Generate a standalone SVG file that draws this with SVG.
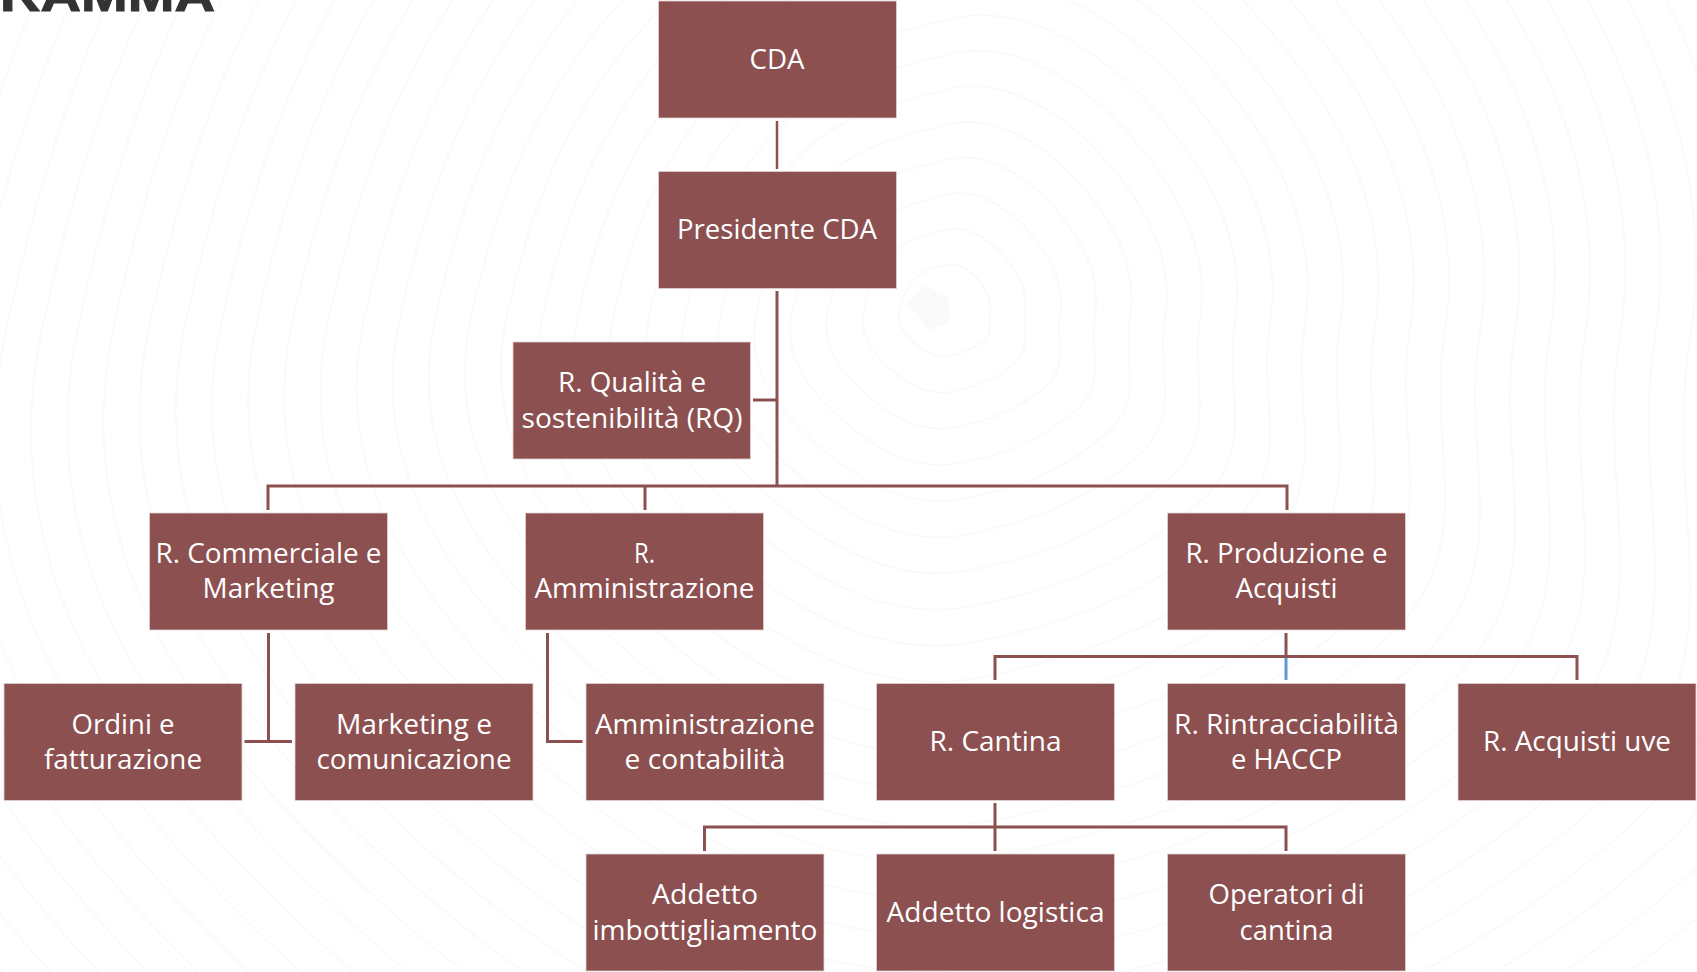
<svg xmlns="http://www.w3.org/2000/svg" width="1697" height="972" viewBox="0 0 1697 972">
<defs>
<path id="contour" fill="none" stroke="#f9f9f9" stroke-width="1.500" vector-effect="non-scaling-stroke" d="M0-100C30-108 60-85 78-62C92-45 104-22 100 4C96 28 108 48 88 66C66 86 40 96 10 102C-20 108-48 92-70 72C-92 52-108 30-102 2C-96-26-86-52-62-74C-44-90-22-94 0-100Z"/>
</defs>
<style>
.box{fill:#8c5050;stroke:#e2d2d2;stroke-width:.8}
.t{font-family:"Open Sans","Noto Sans","Liberation Sans",sans-serif;font-size:28px;fill:#fff;text-anchor:middle}
.c{fill:none;stroke:#8c5050;stroke-width:3}
.c1{fill:none;stroke:#8c5050;stroke-width:2.500}
.b{fill:none;stroke:#5b9bd5;stroke-width:3}
</style>
<rect width="1697" height="972" fill="#fff"/>
<g id="background">
<path d="M905 305L925 286L948 296L950 322L927 331L918 313Z" fill="#fafafa"/>
<use href="#contour" transform="translate(945 310) scale(.45)"/>
<use href="#contour" transform="translate(945 310) scale(.8)"/>
<use href="#contour" transform="translate(945 310) scale(1.15)"/>
<use href="#contour" transform="translate(945 310) scale(1.5)"/>
<use href="#contour" transform="translate(945 310) scale(1.85)"/>
<use href="#contour" transform="translate(945 310) scale(2.2)"/>
<use href="#contour" transform="translate(945 310) scale(2.55)"/>
<use href="#contour" transform="translate(945 310) scale(2.9)"/>
<use href="#contour" transform="translate(945 310) scale(3.25)"/>
<use href="#contour" transform="translate(945 310) scale(3.6)"/>
<use href="#contour" transform="translate(945 310) scale(3.95)"/>
<use href="#contour" transform="translate(945 310) scale(4.3)"/>
<use href="#contour" transform="translate(945 310) scale(4.65)"/>
<use href="#contour" transform="translate(945 310) scale(5)"/>
<use href="#contour" transform="translate(945 310) scale(5.35)"/>
<use href="#contour" transform="translate(945 310) scale(5.7)"/>
<use href="#contour" transform="translate(945 310) scale(6.05)"/>
<use href="#contour" transform="translate(945 310) scale(6.4)"/>
<use href="#contour" transform="translate(945 310) scale(6.75)"/>
<use href="#contour" transform="translate(945 310) scale(7.1)"/>
<use href="#contour" transform="translate(945 310) scale(7.45)"/>
<use href="#contour" transform="translate(945 310) scale(7.8)"/>
<use href="#contour" transform="translate(945 310) scale(8.15)"/>
<use href="#contour" transform="translate(945 310) scale(8.5)"/>
<use href="#contour" transform="translate(945 310) scale(8.85)"/>
<use href="#contour" transform="translate(945 310) scale(9.2)"/>
<use href="#contour" transform="translate(945 310) scale(9.55)"/>
<use href="#contour" transform="translate(945 310) scale(9.9)"/>
<use href="#contour" transform="translate(945 310) scale(10.25)"/>
<use href="#contour" transform="translate(945 310) scale(10.6)"/>
<use href="#contour" transform="translate(945 310) scale(10.95)"/>
<use href="#contour" transform="translate(945 310) scale(11.3)"/>
</g>
<text x="0" y="10.500" font-family="Liberation Sans, sans-serif" font-weight="700" font-size="46" fill="#333" stroke="#333" stroke-width="1" textLength="215" lengthAdjust="spacingAndGlyphs">RAMMA</text>
<g id="connectors">
<path class="c1" d="M777 121V169"/>
<path class="c" d="M777 291V486M753 400H777M268 510V486H1287V510M645 486V510"/>
<path class="c" d="M268.500 633V741.500M244.500 741.500H292"/>
<path class="c" d="M547.500 633V741.500H582.500"/>
<path class="b" d="M1286 657V680"/>
<path class="c" d="M1286 633V657M995 680V656.500H1577V680"/>
<path class="c" d="M995 803V851M704.500 851V827H1286V851"/>
</g>
<g id="n-cda"><rect class="box" x="658.500" y="1" width="238" height="117"/><text class="t" x="777" y="69" textLength="55" lengthAdjust="spacingAndGlyphs">CDA</text></g>
<g id="n-presidente"><rect class="box" x="658.500" y="171.500" width="238" height="117"/><text class="t" x="777" y="239" textLength="200" lengthAdjust="spacingAndGlyphs">Presidente CDA</text></g>
<g id="n-rq"><rect class="box" x="513" y="342" width="237.500" height="117"/><text class="t" x="632" y="392" textLength="148" lengthAdjust="spacingAndGlyphs">R. Qualità e</text><text class="t" x="632" y="428" textLength="221" lengthAdjust="spacingAndGlyphs">sostenibilità (RQ)</text></g>
<g id="n-commerciale"><rect class="box" x="149.500" y="513" width="238" height="117"/><text class="t" x="268.500" y="563" textLength="226" lengthAdjust="spacingAndGlyphs">R. Commerciale e</text><text class="t" x="268.500" y="598" textLength="132" lengthAdjust="spacingAndGlyphs">Marketing</text></g>
<g id="n-amministrazione"><rect class="box" x="525.500" y="513" width="238" height="117"/><text class="t" x="644.500" y="563" textLength="21" lengthAdjust="spacingAndGlyphs">R.</text><text class="t" x="644.500" y="598" textLength="220" lengthAdjust="spacingAndGlyphs">Amministrazione</text></g>
<g id="n-produzione"><rect class="box" x="1167.500" y="513" width="238" height="117"/><text class="t" x="1286.500" y="563" textLength="202" lengthAdjust="spacingAndGlyphs">R. Produzione e</text><text class="t" x="1286.500" y="598" textLength="102" lengthAdjust="spacingAndGlyphs">Acquisti</text></g>
<g id="n-ordini"><rect class="box" x="4" y="683.500" width="238" height="117"/><text class="t" x="123" y="734" textLength="103" lengthAdjust="spacingAndGlyphs">Ordini e</text><text class="t" x="123" y="769" textLength="158" lengthAdjust="spacingAndGlyphs">fatturazione</text></g>
<g id="n-marketing"><rect class="box" x="295" y="683.500" width="238" height="117"/><text class="t" x="414" y="734" textLength="156" lengthAdjust="spacingAndGlyphs">Marketing e</text><text class="t" x="414" y="769" textLength="195" lengthAdjust="spacingAndGlyphs">comunicazione</text></g>
<g id="n-contabilita"><rect class="box" x="586" y="683.500" width="238" height="117"/><text class="t" x="705" y="734" textLength="220" lengthAdjust="spacingAndGlyphs">Amministrazione</text><text class="t" x="705" y="769" textLength="161" lengthAdjust="spacingAndGlyphs">e contabilità</text></g>
<g id="n-cantina"><rect class="box" x="876.500" y="683.500" width="238" height="117"/><text class="t" x="995.500" y="751" textLength="132" lengthAdjust="spacingAndGlyphs">R. Cantina</text></g>
<g id="n-rintracciabilita"><rect class="box" x="1167.500" y="683.500" width="238" height="117"/><text class="t" x="1286.500" y="734" textLength="225" lengthAdjust="spacingAndGlyphs">R. Rintracciabilità</text><text class="t" x="1286.500" y="769" textLength="111" lengthAdjust="spacingAndGlyphs">e HACCP</text></g>
<g id="n-acquisti"><rect class="box" x="1458" y="683.500" width="238" height="117"/><text class="t" x="1577" y="751" textLength="188" lengthAdjust="spacingAndGlyphs">R. Acquisti uve</text></g>
<g id="n-imbottigliamento"><rect class="box" x="586" y="854" width="238" height="117"/><text class="t" x="705" y="904" textLength="106" lengthAdjust="spacingAndGlyphs">Addetto</text><text class="t" x="705" y="940" textLength="225" lengthAdjust="spacingAndGlyphs">imbottigliamento</text></g>
<g id="n-logistica"><rect class="box" x="876.500" y="854" width="238" height="117"/><text class="t" x="995.500" y="921.500" textLength="218" lengthAdjust="spacingAndGlyphs">Addetto logistica</text></g>
<g id="n-operatori"><rect class="box" x="1167.500" y="854" width="238" height="117"/><text class="t" x="1286.500" y="904" textLength="156" lengthAdjust="spacingAndGlyphs">Operatori di</text><text class="t" x="1286.500" y="940" textLength="94" lengthAdjust="spacingAndGlyphs">cantina</text></g>
</svg>
